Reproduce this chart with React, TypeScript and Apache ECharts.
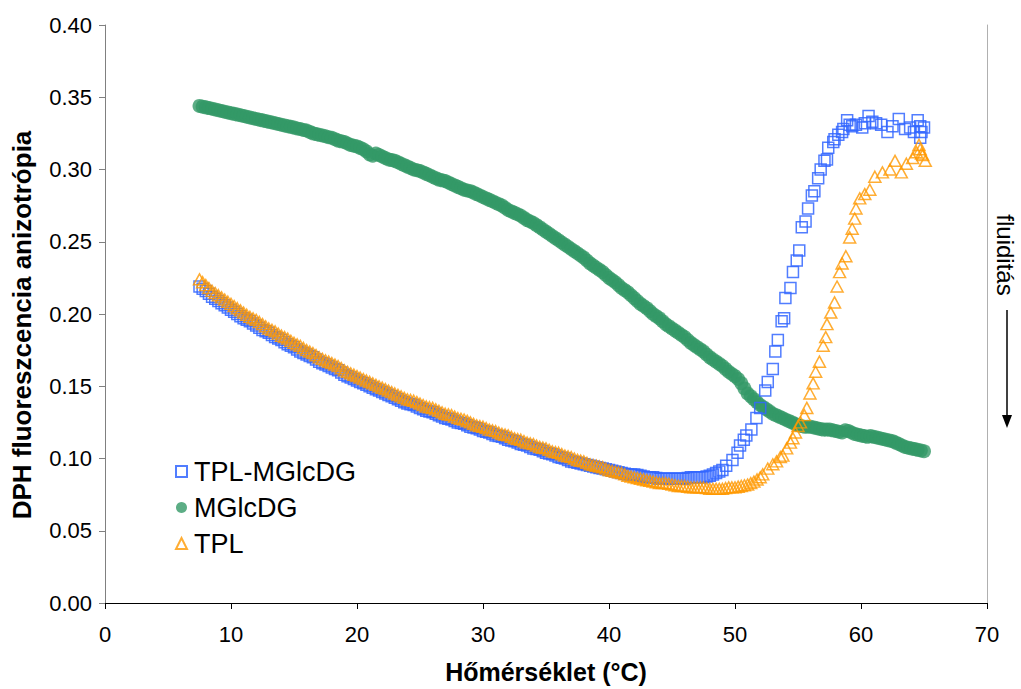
import React, { useEffect, useRef } from "react";
import * as echarts from "echarts";

// DPH fluorescence anisotropy vs temperature, [°C, anisotropy]
const tplMglcdg: [number, number][] = [
  [7.5, 0.219], [7.75, 0.2175], [8, 0.216], [8.25, 0.214], [8.5, 0.212], [8.75, 0.2105],
  [9, 0.209], [9.25, 0.2075], [9.5, 0.206], [9.75, 0.2045], [10, 0.203], [10.25, 0.2015],
  [10.5, 0.2], [10.75, 0.1985], [11, 0.197], [11.25, 0.196], [11.5, 0.195], [11.75, 0.1935],
  [12, 0.192], [12.25, 0.1905], [12.5, 0.189], [12.75, 0.188], [13, 0.187], [13.25, 0.1855],
  [13.5, 0.184], [13.75, 0.183], [14, 0.182], [14.25, 0.1805], [14.5, 0.179], [14.75, 0.178],
  [15, 0.177], [15.25, 0.1755], [15.5, 0.174], [15.75, 0.173], [16, 0.172], [16.25, 0.171],
  [16.5, 0.17], [16.75, 0.1685], [17, 0.167], [17.25, 0.166], [17.5, 0.165], [17.75, 0.164],
  [18, 0.163], [18.25, 0.162], [18.5, 0.161], [18.75, 0.1595], [19, 0.158], [19.25, 0.157],
  [19.5, 0.156], [19.75, 0.155], [20, 0.154], [20.25, 0.153], [20.5, 0.152], [20.75, 0.151],
  [21, 0.15], [21.25, 0.149], [21.5, 0.148], [21.75, 0.147], [22, 0.146], [22.25, 0.145],
  [22.5, 0.144], [22.75, 0.143], [23, 0.142], [23.25, 0.141], [23.5, 0.14], [23.75, 0.139],
  [24, 0.138], [24.25, 0.1375], [24.5, 0.137], [24.75, 0.136], [25, 0.135], [25.25, 0.134],
  [25.5, 0.133], [25.75, 0.1325], [26, 0.132], [26.25, 0.131], [26.5, 0.13], [26.75, 0.129],
  [27, 0.128], [27.25, 0.1275], [27.5, 0.127], [27.75, 0.126], [28, 0.125], [28.25, 0.1245],
  [28.5, 0.124], [28.75, 0.123], [29, 0.122], [29.25, 0.1215], [29.5, 0.121], [29.75, 0.12],
  [30, 0.119], [30.25, 0.1185], [30.5, 0.118], [30.75, 0.117], [31, 0.116], [31.25, 0.1155],
  [31.5, 0.115], [31.75, 0.114], [32, 0.113], [32.25, 0.1125], [32.5, 0.112], [32.75, 0.111],
  [33, 0.11], [33.25, 0.1095], [33.5, 0.109], [33.75, 0.108], [34, 0.107], [34.25, 0.1065],
  [34.5, 0.106], [34.75, 0.105], [35, 0.104], [35.25, 0.1035], [35.5, 0.103], [35.75, 0.102],
  [36, 0.101], [36.25, 0.1005], [36.5, 0.1], [36.75, 0.099], [37, 0.098], [37.25, 0.0975],
  [37.5, 0.097], [37.75, 0.0965], [38, 0.096], [38.25, 0.0955], [38.5, 0.095], [38.75, 0.0945],
  [39, 0.094], [39.25, 0.0935], [39.5, 0.093], [39.75, 0.0925], [40, 0.092], [40.25, 0.0915],
  [40.5, 0.091], [40.75, 0.0905], [41, 0.09], [41.25, 0.0895], [41.5, 0.089], [41.75, 0.089],
  [42, 0.089], [42.25, 0.0885], [42.5, 0.088], [42.75, 0.0875], [43, 0.087], [43.25, 0.087],
  [43.5, 0.087], [43.75, 0.0865], [44, 0.086], [44.25, 0.086], [44.5, 0.086], [44.75, 0.086],
  [45, 0.086], [45.25, 0.086], [45.5, 0.086], [45.75, 0.086], [46, 0.086], [46.25, 0.0865],
  [46.5, 0.087], [46.75, 0.087], [47, 0.087], [47.25, 0.087], [47.5, 0.087], [47.75, 0.0875],
  [48, 0.088], [48.25, 0.089], [48.5, 0.09], [48.75, 0.091], [49, 0.092], [49.3, 0.095],
  [49.8, 0.099], [50.2, 0.104], [50.4, 0.109], [50.7, 0.113], [50.9, 0.116], [51.3, 0.12],
  [51.7, 0.128], [52, 0.135], [52.4, 0.147], [52.6, 0.153], [53, 0.162], [53.2, 0.174],
  [53.4, 0.182], [53.7, 0.195], [53.9, 0.197], [54, 0.211], [54.4, 0.218], [54.6, 0.229],
  [54.9, 0.237], [55.1, 0.244], [55.3, 0.26], [55.6, 0.264], [55.8, 0.273], [56.1, 0.282],
  [56.3, 0.285], [56.6, 0.294], [56.8, 0.3], [57.1, 0.306], [57.3, 0.307], [57.4, 0.315],
  [57.8, 0.319], [57.9, 0.321], [58.2, 0.324], [58.5, 0.326], [58.6, 0.328], [58.9, 0.334],
  [59.1, 0.331], [59.3, 0.33], [59.6, 0.331], [60.1, 0.329], [60.3, 0.332], [60.6, 0.337],
  [60.9, 0.333], [61.2, 0.332], [61.6, 0.331], [62.1, 0.326], [62.5, 0.33], [63, 0.335],
  [63.5, 0.328], [63.9, 0.329], [64.2, 0.326], [64.5, 0.334], [64.7, 0.33], [64.7, 0.322],
  [64.8, 0.326], [65, 0.329],
];

const mglcdg: [number, number][] = [
  [7.5, 0.344], [7.75, 0.3435], [8, 0.343], [8.25, 0.3425], [8.5, 0.342], [8.75, 0.3415],
  [9, 0.341], [9.25, 0.3405], [9.5, 0.34], [9.75, 0.3395], [10, 0.339], [10.25, 0.3385],
  [10.5, 0.338], [10.75, 0.3375], [11, 0.337], [11.25, 0.3365], [11.5, 0.336], [11.75, 0.3355],
  [12, 0.335], [12.25, 0.3345], [12.5, 0.334], [12.75, 0.3335], [13, 0.333], [13.25, 0.3325],
  [13.5, 0.332], [13.75, 0.3315], [14, 0.331], [14.25, 0.3305], [14.5, 0.33], [14.75, 0.3295],
  [15, 0.329], [15.25, 0.3284], [15.5, 0.328], [15.75, 0.3274], [16, 0.327], [16.25, 0.326],
  [16.5, 0.325], [16.75, 0.3245], [17, 0.324], [17.25, 0.3235], [17.5, 0.323], [17.75, 0.3223],
  [18, 0.322], [18.25, 0.321], [18.5, 0.32], [18.75, 0.3195], [19, 0.319], [19.25, 0.318],
  [19.5, 0.317], [19.75, 0.3165], [20, 0.316], [20.25, 0.315], [20.5, 0.314], [20.75, 0.3125],
  [21, 0.3105], [21.25, 0.3095], [21.5, 0.311], [21.75, 0.31], [22, 0.309], [22.25, 0.308],
  [22.5, 0.307], [22.75, 0.3065], [23, 0.306], [23.25, 0.305], [23.5, 0.304], [23.75, 0.303],
  [24, 0.302], [24.25, 0.301], [24.5, 0.3], [24.75, 0.2995], [25, 0.299], [25.25, 0.298],
  [25.5, 0.297], [25.75, 0.296], [26, 0.295], [26.25, 0.294], [26.5, 0.293], [26.75, 0.2925],
  [27, 0.292], [27.25, 0.291], [27.5, 0.29], [27.75, 0.289], [28, 0.288], [28.25, 0.287],
  [28.5, 0.286], [28.75, 0.2855], [29, 0.285], [29.25, 0.284], [29.5, 0.283], [29.75, 0.282],
  [30, 0.281], [30.25, 0.28], [30.5, 0.279], [30.75, 0.278], [31, 0.277], [31.25, 0.276],
  [31.5, 0.275], [31.75, 0.2735], [32, 0.272], [32.25, 0.271], [32.5, 0.27], [32.75, 0.269],
  [33, 0.268], [33.25, 0.2665], [33.5, 0.265], [33.75, 0.264], [34, 0.263], [34.25, 0.2615],
  [34.5, 0.26], [34.75, 0.2585], [35, 0.257], [35.25, 0.2555], [35.5, 0.254], [35.75, 0.2525],
  [36, 0.251], [36.25, 0.2495], [36.5, 0.248], [36.75, 0.2465], [37, 0.245], [37.25, 0.2435],
  [37.5, 0.242], [37.75, 0.2405], [38, 0.239], [38.25, 0.237], [38.5, 0.235], [38.75, 0.2335],
  [39, 0.232], [39.25, 0.2305], [39.5, 0.229], [39.75, 0.227], [40, 0.225], [40.25, 0.2235],
  [40.5, 0.222], [40.75, 0.22], [41, 0.218], [41.25, 0.2165], [41.5, 0.215], [41.75, 0.213],
  [42, 0.211], [42.25, 0.209], [42.5, 0.207], [42.75, 0.2055], [43, 0.204], [43.25, 0.202],
  [43.5, 0.2], [43.75, 0.1985], [44, 0.197], [44.25, 0.195], [44.5, 0.193], [44.75, 0.1915],
  [45, 0.19], [45.25, 0.1885], [45.5, 0.187], [45.75, 0.1855], [46, 0.184], [46.25, 0.182],
  [46.5, 0.18], [46.75, 0.1785], [47, 0.177], [47.25, 0.1755], [47.5, 0.174], [47.75, 0.172],
  [48, 0.17], [48.25, 0.1685], [48.5, 0.167], [48.75, 0.1655], [49, 0.164], [49.25, 0.162],
  [49.5, 0.16], [49.75, 0.1585], [50, 0.157], [50.25, 0.155], [50.5, 0.152], [50.75, 0.1485],
  [51, 0.145], [51.25, 0.143], [51.5, 0.141], [51.75, 0.139], [52, 0.137], [52.25, 0.1355],
  [52.5, 0.134], [52.75, 0.1325], [53, 0.131], [53.25, 0.13], [53.5, 0.129], [53.75, 0.128],
  [54, 0.127], [54.25, 0.126], [54.5, 0.125], [54.75, 0.124], [55, 0.123], [55.25, 0.1225],
  [55.5, 0.122], [55.75, 0.122], [56, 0.122], [56.25, 0.1215], [56.5, 0.121], [56.75, 0.1205],
  [57, 0.12], [57.25, 0.12], [57.5, 0.12], [57.75, 0.1195], [58, 0.119], [58.25, 0.1185],
  [58.5, 0.118], [58.75, 0.1195], [59, 0.119], [59.25, 0.118], [59.5, 0.117], [59.75, 0.1165],
  [60, 0.116], [60.25, 0.1155], [60.5, 0.115], [60.75, 0.1155], [61, 0.115], [61.25, 0.1145],
  [61.5, 0.114], [61.75, 0.1135], [62, 0.113], [62.25, 0.1125], [62.5, 0.112], [62.75, 0.111],
  [63, 0.11], [63.25, 0.109], [63.5, 0.108], [63.75, 0.1075], [64, 0.107], [64.25, 0.1065],
  [64.5, 0.106], [64.75, 0.1055], [65, 0.105],
];

const tpl: [number, number][] = [
  [7.5, 0.224], [7.75, 0.222], [8, 0.22], [8.25, 0.218], [8.5, 0.216], [8.75, 0.2145],
  [9, 0.213], [9.25, 0.2115], [9.5, 0.21], [9.75, 0.2085], [10, 0.207], [10.25, 0.2055],
  [10.5, 0.204], [10.75, 0.2025], [11, 0.201], [11.25, 0.1995], [11.5, 0.198], [11.75, 0.197],
  [12, 0.196], [12.25, 0.1945], [12.5, 0.193], [12.75, 0.1915], [13, 0.19], [13.25, 0.189],
  [13.5, 0.188], [13.75, 0.1865], [14, 0.185], [14.25, 0.184], [14.5, 0.183], [14.75, 0.1815],
  [15, 0.18], [15.25, 0.179], [15.5, 0.178], [15.75, 0.1765], [16, 0.175], [16.25, 0.174],
  [16.5, 0.173], [16.75, 0.1715], [17, 0.17], [17.25, 0.169], [17.5, 0.168], [17.75, 0.167],
  [18, 0.166], [18.25, 0.165], [18.5, 0.164], [18.75, 0.1625], [19, 0.161], [19.25, 0.16],
  [19.5, 0.159], [19.75, 0.158], [20, 0.157], [20.25, 0.156], [20.5, 0.155], [20.75, 0.154],
  [21, 0.153], [21.25, 0.152], [21.5, 0.151], [21.75, 0.15], [22, 0.149], [22.25, 0.148],
  [22.5, 0.147], [22.75, 0.146], [23, 0.145], [23.25, 0.144], [23.5, 0.143], [23.75, 0.142],
  [24, 0.141], [24.25, 0.1405], [24.5, 0.14], [24.75, 0.139], [25, 0.138], [25.25, 0.137],
  [25.5, 0.136], [25.75, 0.1355], [26, 0.135], [26.25, 0.134], [26.5, 0.133], [26.75, 0.132],
  [27, 0.131], [27.25, 0.1305], [27.5, 0.13], [27.75, 0.129], [28, 0.128], [28.25, 0.1275],
  [28.5, 0.127], [28.75, 0.126], [29, 0.125], [29.25, 0.124], [29.5, 0.123], [29.75, 0.1225],
  [30, 0.122], [30.25, 0.121], [30.5, 0.12], [30.75, 0.1195], [31, 0.119], [31.25, 0.118],
  [31.5, 0.117], [31.75, 0.1165], [32, 0.116], [32.25, 0.115], [32.5, 0.114], [32.75, 0.1135],
  [33, 0.113], [33.25, 0.112], [33.5, 0.111], [33.75, 0.1105], [34, 0.11], [34.25, 0.109],
  [34.5, 0.108], [34.75, 0.1075], [35, 0.107], [35.25, 0.106], [35.5, 0.105], [35.75, 0.1045],
  [36, 0.104], [36.25, 0.103], [36.5, 0.102], [36.75, 0.1015], [37, 0.101], [37.25, 0.1],
  [37.5, 0.099], [37.75, 0.0985], [38, 0.098], [38.25, 0.097], [38.5, 0.096], [38.75, 0.0955],
  [39, 0.095], [39.25, 0.0945], [39.5, 0.094], [39.75, 0.093], [40, 0.092], [40.25, 0.0915],
  [40.5, 0.091], [40.75, 0.0905], [41, 0.09], [41.25, 0.089], [41.5, 0.088], [41.75, 0.0875],
  [42, 0.087], [42.25, 0.0865], [42.5, 0.086], [42.75, 0.0855], [43, 0.085], [43.25, 0.0845],
  [43.5, 0.084], [43.75, 0.0835], [44, 0.083], [44.25, 0.083], [44.5, 0.083], [44.75, 0.0825],
  [45, 0.082], [45.25, 0.0815], [45.5, 0.081], [45.75, 0.081], [46, 0.081], [46.25, 0.0805],
  [46.5, 0.08], [46.75, 0.08], [47, 0.08], [47.25, 0.08], [47.5, 0.08], [47.75, 0.0795],
  [48, 0.079], [48.25, 0.079], [48.5, 0.079], [48.75, 0.079], [49, 0.079], [49.25, 0.0795],
  [49.5, 0.08], [49.75, 0.08], [50, 0.08], [50.25, 0.0805], [50.5, 0.081], [50.75, 0.0815],
  [51, 0.082], [51.25, 0.083], [51.5, 0.084], [51.75, 0.0855], [52, 0.087], [52.2, 0.089],
  [52.6, 0.093], [53, 0.096], [53.3, 0.098], [53.6, 0.101], [53.8, 0.102], [54.1, 0.107],
  [54.4, 0.111], [54.6, 0.114], [54.8, 0.118], [55, 0.1225], [55.2, 0.125], [55.5, 0.13],
  [55.7, 0.135], [55.95, 0.145], [56.2, 0.152], [56.4, 0.16], [56.7, 0.167], [57, 0.178],
  [57.2, 0.184], [57.3, 0.193], [57.6, 0.201], [57.9, 0.208], [58.1, 0.219], [58.3, 0.229],
  [58.5, 0.235], [58.8, 0.24], [59.1, 0.253], [59.3, 0.259], [59.5, 0.266], [59.6, 0.273],
  [59.9, 0.28], [60.3, 0.283], [60.7, 0.286], [61.1, 0.295], [61.7, 0.298], [62.3, 0.3],
  [62.7, 0.306], [63.2, 0.298], [63.6, 0.304], [64.1, 0.308], [64.4, 0.312], [64.6, 0.317],
  [64.7, 0.314], [64.8, 0.311], [64.9, 0.31], [65.1, 0.306],
];

const seriesNames = ["TPL-MGlcDG", "MGlcDG", "TPL"];
const xTicks = { min: 0, max: 70, interval: 10 };
const yTicks = { min: 0, max: 0.4, interval: 0.05 };

const FONT = "'Liberation Sans', Arial, sans-serif";

export default function App() {
  const ref = useRef<HTMLDivElement>(null);

  useEffect(() => {
    document.body.style.margin = "0";
    if (!ref.current) return;
    const chart = echarts.init(ref.current, undefined, { renderer: "svg" });

    chart.setOption({
      animation: false,
      backgroundColor: "#ffffff",
      textStyle: { fontFamily: FONT },
      grid: { left: 105, right: 34, top: 25, bottom: 83, containLabel: false },
      legend: {
        data: seriesNames,
        orient: "vertical",
        left: 170,
        top: 453,
        itemGap: 9,
        itemWidth: 11,
        itemHeight: 11,
        textStyle: { fontFamily: FONT, fontSize: 27, color: "#000", padding: [0, 0, 0, 2] },
      },
      xAxis: {
        type: "value",
        min: xTicks.min,
        max: xTicks.max,
        interval: xTicks.interval,
        name: "Hőmérséklet (°C)",
        nameLocation: "middle",
        nameGap: 56,
        nameTextStyle: { fontFamily: FONT, fontSize: 25, fontWeight: "bold", color: "#000" },
        axisLine: { lineStyle: { color: "#000", width: 1 } },
        axisTick: { show: true, inside: false, length: 6, lineStyle: { color: "#000" } },
        axisLabel: { fontFamily: FONT, fontSize: 22, color: "#000", margin: 20 },
        splitLine: { show: false },
      },
      yAxis: [
        {
          type: "value",
          min: yTicks.min,
          max: yTicks.max,
          interval: yTicks.interval,
          axisLine: { show: true, lineStyle: { color: "#808080", width: 1 } },
          axisTick: { show: true, inside: false, length: 6, lineStyle: { color: "#808080" } },
          axisLabel: {
            fontFamily: FONT,
            fontSize: 22,
            color: "#000",
            margin: 13,
            formatter: (v: number) => v.toFixed(2),
          },
          splitLine: { show: false },
        },
        {
          type: "value",
          position: "right",
          min: yTicks.min,
          max: yTicks.max,
          interval: yTicks.interval,
          axisLine: { show: true, lineStyle: { color: "#b0b0b0", width: 1 } },
          axisTick: { show: false },
          axisLabel: { show: false },
          splitLine: { show: false },
        },
      ],
      series: [
        {
          name: "MGlcDG",
          type: "scatter",
          data: mglcdg,
          symbol: "circle",
          symbolSize: 14,
          itemStyle: { color: "#339966" },
          z: 2,
        },
        {
          name: "TPL-MGlcDG",
          type: "scatter",
          data: tplMglcdg,
          symbol: "rect",
          symbolSize: 11,
          itemStyle: { color: "rgba(0,0,0,0)", borderColor: "#3366FF", borderWidth: 1.5, opacity: 0.85 },
          z: 3,
        },
        {
          name: "TPL",
          type: "scatter",
          data: tpl,
          symbol: "triangle",
          symbolSize: [12, 11],
          itemStyle: { color: "rgba(0,0,0,0)", borderColor: "#FF9900", borderWidth: 1.5 },
          z: 4,
        },
      ],
      graphic: [
        {
          type: "text",
          x: 22,
          y: 325,
          rotation: Math.PI / 2,
          style: {
            text: "DPH fluoreszcencia anizotrópia",
            fontFamily: FONT,
            fontSize: 26,
            fontWeight: "bold",
            fill: "#000",
            align: "center",
            verticalAlign: "middle",
          },
        },
        {
          type: "text",
          x: 1005,
          y: 255,
          rotation: -Math.PI / 2,
          style: {
            text: "fluiditás",
            fontFamily: FONT,
            fontSize: 24,
            fill: "#000",
            align: "center",
            verticalAlign: "middle",
          },
        },
        {
          type: "line",
          shape: { x1: 1007, y1: 310, x2: 1007, y2: 418 },
          style: { stroke: "#000", lineWidth: 1.5 },
        },
        {
          type: "polygon",
          shape: { points: [[1002, 415], [1012, 415], [1007, 428]] },
          style: { fill: "#000" },
        },
      ],
    });

    return () => chart.dispose();
  }, []);

  return <div ref={ref} style={{ width: 1021, height: 689 }} />;
}
